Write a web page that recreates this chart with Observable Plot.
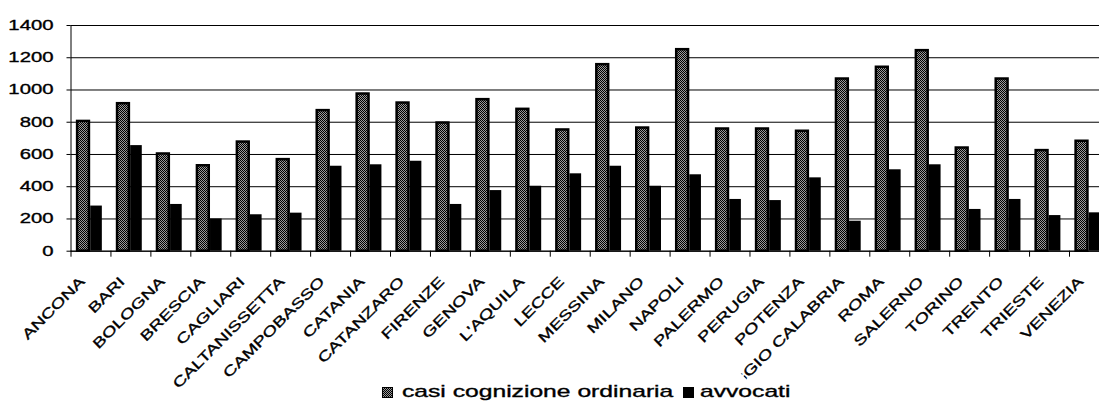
<!DOCTYPE html>
<html>
<head>
<meta charset="utf-8">
<script src="https://cdn.jsdelivr.net/npm/d3@7"></script>
<script src="https://cdn.jsdelivr.net/npm/@observablehq/plot@0.6"></script>
<style>
  html, body { margin: 0; padding: 0; background: #fff; overflow: hidden; }
  body { width: 1099px; height: 407px; font-family: "Liberation Sans", Arial, sans-serif; color: #000; }
  #chart { width: 1099px; height: 383px; }
  #chart svg { overflow: visible; display: block; max-width: none !important; width: 1099px !important; height: 383px !important; }
  #chart svg text { stroke: #000; stroke-width: 0.35px; }
  #legend { position: relative; height: 24px; width: 1099px; overflow: hidden; }
  #legend .sw { position: absolute; top: 3.7px; width: 9px; height: 9px; border: 1px solid #000; }
  #legend .tx { position: absolute; top: -1px; font-size: 17px; line-height: 20px; white-space: nowrap; transform: scaleX(1.45); transform-origin: 0 0; -webkit-text-stroke: 0.35px #000; }
</style>
</head>
<body>
<div id="chart"></div>
<div id="legend"></div>
<script>
const cities = ["ANCONA","BARI","BOLOGNA","BRESCIA","CAGLIARI","CALTANISSETTA","CAMPOBASSO","CATANIA","CATANZARO","FIRENZE","GENOVA","L'AQUILA","LECCE","MESSINA","MILANO","NAPOLI","PALERMO","PERUGIA","POTENZA","REGGIO CALABRIA","ROMA","SALERNO","TORINO","TRENTO","TRIESTE","VENEZIA"];
const casi = [805,915,603,530,677,568,872,975,919,795,940,880,752,1157,764,1250,758,758,744,1068,1141,1244,640,1068,624,682];
const avvocati = [280,655,290,200,226,236,527,536,558,290,376,403,480,527,403,474,321,314,455,186,505,536,259,321,221,238];
const seriesNames = ["casi cognizione ordinaria", "avvocati"];
const yTicks = [0, 200, 400, 600, 800, 1000, 1200, 1400];

const rows = cities.map((c, i) => ({city: c, casi: casi[i], avv: avvocati[i]}));

const x0 = 70.5, bw = 39.94;
const plot = Plot.plot({
  width: 1099,
  height: 383,
  marginLeft: x0,
  marginRight: 0,
  marginTop: 25,
  marginBottom: 132.3,
  style: {fontFamily: "'Liberation Sans', Arial, sans-serif", fontSize: "14px", color: "#000", background: "#fff", overflow: "visible"},
  x: {domain: cities, range: [x0, x0 + cities.length * bw], padding: 0, align: 0, round: false, label: null},
  y: {domain: [0, 1400], label: null},
  marks: [
    Plot.gridY(yTicks, {stroke: "#000", strokeOpacity: 1, strokeWidth: 1}),
    Plot.frame({anchor: "left", stroke: "#000", strokeOpacity: 1}),
    Plot.barY(rows, {x: "city", y: "casi", fill: "url(#dither)", stroke: "#000", strokeWidth: 2.5, insetLeft: 6.6, insetRight: 21.5}),
    Plot.barY(rows, {x: "city", y: "avv", fill: "#000", insetLeft: 19.7, insetRight: 8.6}),
    Plot.ruleY([0], {stroke: "#000", strokeWidth: 1}),
    Plot.axisY(yTicks, {tickSize: 4, tickPadding: 13.5, tickFormat: d => String(d), label: null}),
    Plot.axisX({tickSize: 6, tickFormat: () => "", dx: -bw / 2, label: null}),
    Plot.axisX({tickSize: 0, tickPadding: 28, dx: -8.5, label: null})
  ]
});

// pattern for the dithered grey fill
const ns = "http://www.w3.org/2000/svg";
const defs = document.createElementNS(ns, "defs");
defs.innerHTML = '<pattern id="dither" width="2" height="2" patternUnits="userSpaceOnUse">' +
  '<rect width="2" height="2" fill="#9a9a9a"/><rect width="1" height="1" fill="#000"/>' +
  '<rect x="1" y="1" width="1" height="1" fill="#000"/></pattern>' +
  '<clipPath id="cutlabel" clipPathUnits="objectBoundingBox"><rect x="0.22" y="-1" width="1" height="3"/></clipPath>';
plot.insertBefore(defs, plot.firstChild);

// horizontally stretched lettering, as in the reference
function stretch(t, sx) {
  const tr = t.getAttribute("transform") || "";
  const xa = parseFloat(t.getAttribute("x")) || 0;
  t.setAttribute("transform", `${tr} translate(${xa},0) scale(${sx},1) translate(${-xa},0)`);
}
plot.querySelectorAll('g[aria-label="y-axis tick label"] text').forEach(t => stretch(t, 1.45));

// x labels: rotate -45° about their anchor, stretched along the baseline
plot.querySelectorAll('g[aria-label="x-axis tick label"] text').forEach(t => {
  let e = 0, f = 0;
  const list = t.transform && t.transform.baseVal;
  if (list && list.numberOfItems) { const m = list.consolidate().matrix; e = m.e; f = m.f; }
  e += parseFloat(t.getAttribute("x")) || 0;
  t.removeAttribute("x");
  t.setAttribute("y", "0.32em");
  t.setAttribute("text-anchor", "end");
  t.setAttribute("transform", `translate(${e},${f}) rotate(-45) scale(1.37,1)`);
  if (t.textContent === "REGGIO CALABRIA") t.setAttribute("clip-path", "url(#cutlabel)");
});

document.getElementById("chart").appendChild(plot);

// legend
const legend = document.getElementById("legend");
const legendItems = [
  {name: seriesNames[0], swatchLeft: 382, textLeft: 401.7, bg: "repeating-conic-gradient(#000 0% 25%, #9a9a9a 0% 50%) 0 0 / 2px 2px"},
  {name: seriesNames[1], swatchLeft: 683, textLeft: 700, bg: "#000"}
];
legendItems.forEach(it => {
  const sw = document.createElement("div");
  sw.className = "sw";
  sw.style.left = it.swatchLeft + "px";
  sw.style.background = it.bg;
  legend.appendChild(sw);
  const tx = document.createElement("div");
  tx.className = "tx";
  tx.style.left = it.textLeft + "px";
  tx.textContent = it.name;
  legend.appendChild(tx);
});
</script>
</body>
</html>
